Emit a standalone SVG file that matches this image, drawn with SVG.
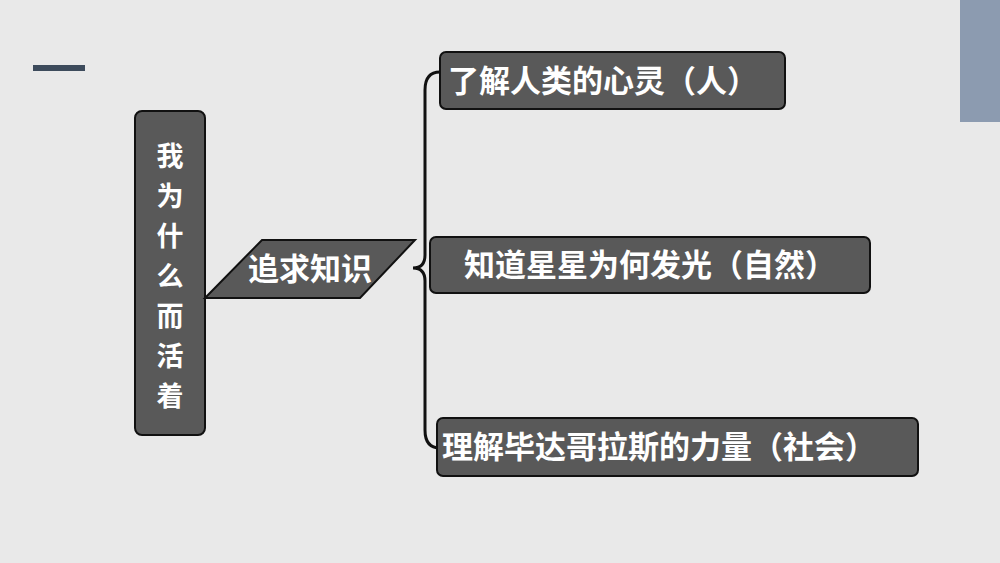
<svg xmlns="http://www.w3.org/2000/svg" width="1000" height="563" viewBox="0 0 1000 563">
<style>
.box{fill:#595959;stroke:#111;stroke-width:2}
.t{fill:#fff;font-family:"Noto Sans CJK SC","Noto Sans",sans-serif;font-weight:bold;font-size:31px}
.v{font-size:27px;text-anchor:middle}
</style>
<rect width="1000" height="563" fill="#e9e9e9"/>
<rect x="33" y="65" width="52" height="6" fill="#3d4b5c"/>
<rect x="960" y="0" width="40" height="122" fill="#8c9bb0"/>
<g id="root"><rect class="box" x="135" y="111" width="70" height="324" rx="7"/>
<text class="t v" x="170" y="166">我</text><text class="t v" x="170" y="206">为</text><text class="t v" x="170" y="246">什</text><text class="t v" x="170" y="286">么</text><text class="t v" x="170" y="326">而</text><text class="t v" x="170" y="366">活</text><text class="t v" x="170" y="406">着</text></g>
<g id="mid"><polygon class="box" points="205,298 262,240 415,240 360,298"/>
<text class="t" x="310" y="280" text-anchor="middle" font-size="29">追求知识</text></g>
<g id="connectors"><path d="M440,72 Q425,72 425,90 L425,255 Q425,268 413,268 Q425,268 425,281 L425,430 Q425,448 440,448" fill="none" stroke="#111" stroke-width="3"/></g>
<g id="n1"><rect class="box" x="440" y="52" width="345" height="57" rx="6"/><text class="t" x="448" y="92">了解人类的心灵（人）</text></g>
<g id="n2"><rect class="box" x="430" y="237" width="440" height="56" rx="6"/><text class="t" x="650" y="276" text-anchor="middle">知道星星为何发光（自然）</text></g>
<g id="n3"><rect class="box" x="437" y="418" width="481" height="58" rx="6"/><text class="t" x="442" y="458">理解毕达哥拉斯的力量（社会）</text></g>
</svg>
